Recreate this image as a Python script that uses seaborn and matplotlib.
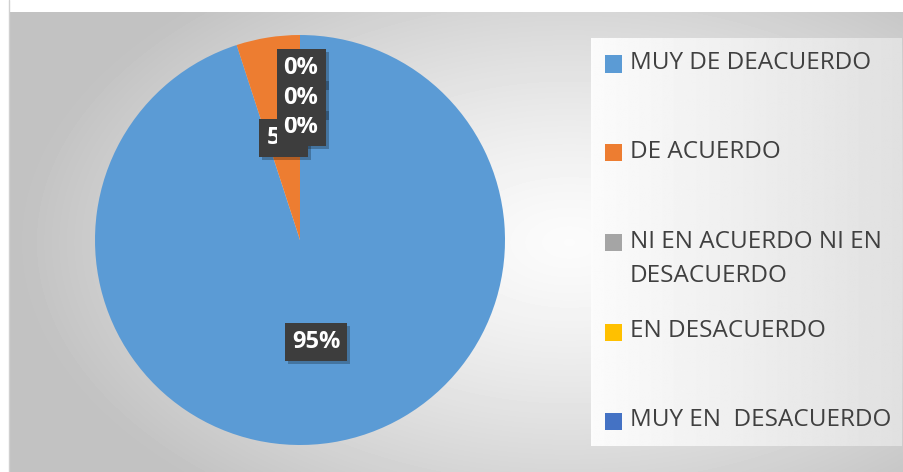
import numpy as np
import matplotlib
matplotlib.use("Agg")
import matplotlib.pyplot as plt
import matplotlib.transforms as mtransforms
from matplotlib.patches import Rectangle
import seaborn as sns

categories = ["MUY DE DEACUERDO", "DE ACUERDO", "NI EN ACUERDO NI EN\nDESACUERDO",
              "EN DESACUERDO", "MUY EN  DESACUERDO"]
values = [95, 5, 0, 0, 0]
colors = ["#5B9BD5", "#ED7D31", "#A5A5A5", "#FFC000", "#4472C4"]

sns.set_theme(style="white")
plt.rcParams["font.family"] = ["Open Sans", "DejaVu Sans"]

W, H = 904, 472
fig = plt.figure(figsize=(W / 100, H / 100), dpi=100)


def px_box(x0, y0, x1, y1):
    # pixel box (top-left origin) -> figure fraction [left, bottom, width, height]
    return [x0 / W, 1 - y1 / H, (x1 - x0) / W, (y1 - y0) / H]


# chart area background: radial grey -> white gradient
bg = fig.add_axes(px_box(9, 12, W, H), zorder=0)
yy, xx = np.mgrid[0:460, 0:895]
d = np.sqrt(((xx - 560) / 560.0) ** 2 + ((yy - 230) / 330.0) ** 2)
shade = np.clip(0.985 - 0.23 * d ** 1.3, 0.76, 0.985)
bg.imshow(shade, cmap="gray", vmin=0, vmax=1, aspect="auto", interpolation="bilinear")
bg.axis("off")
fig.add_artist(plt.Line2D([9 / W, 9 / W], [0, 1], color="#d0d0d0", lw=1))

# legend panel background
lg = fig.add_axes(px_box(591, 38, 902, 446), zorder=1)
grad = np.linspace(0.985, 0.88, 300)[None, :].repeat(10, axis=0)
lg.imshow(grad, cmap="gray", vmin=0, vmax=1, aspect="auto", interpolation="bilinear")
lg.axis("off")

# pie
ax = fig.add_axes(px_box(95, 35, 505, 445), zorder=2)
wedges, _ = ax.pie(values, colors=colors, startangle=90, counterclock=False,
                   radius=1.0, wedgeprops=dict(linewidth=0))
ax.set_xlim(-1, 1)
ax.set_ylim(-1, 1)
ax.set_aspect("equal")
ax.axis("off")

# data labels: zero slices stack upward like Excel does
stack = 0
for w, v in zip(wedges, values):
    ang = np.deg2rad((w.theta1 + w.theta2) / 2)
    if v == 0:
        x, y = 0.005, 0.551 + 0.144 * stack
        stack += 1
    else:
        x, y = 0.505 * np.cos(ang), 0.505 * np.sin(ang)
    sh = mtransforms.offset_copy(ax.transData, fig=fig, x=3, y=-3, units="dots")
    ax.text(x, y, f"{v}%", transform=sh, ha="center", va="center", fontsize=17,
            fontweight="bold", color="none", zorder=4,
            bbox=dict(boxstyle="square,pad=0.3", fc="black", ec="none", alpha=0.25))
    ax.text(x, y, f"{v}%", ha="center", va="center", fontsize=17,
            fontweight="bold", color="white", zorder=5,
            bbox=dict(boxstyle="square,pad=0.3", fc="#3d3d3d", ec="none"))

# legend
leg_y = [64, 153, 243, 332, 421]
for cat, col, yc in zip(categories, colors, leg_y):
    fig.add_artist(Rectangle((605 / W, 1 - (yc + 8.5) / H), 17 / W, 17 / H,
                             transform=fig.transFigure, fc=col, ec="none", zorder=3))
    lines = cat.split("\n")
    for i, line in enumerate(lines):
        fig.text(630 / W, 1 - (yc - 1 + i * 34) / H, line, ha="left", va="center",
                 fontsize=17.5, color="#404040", zorder=3)

fig.savefig("out.png", dpi=100)
